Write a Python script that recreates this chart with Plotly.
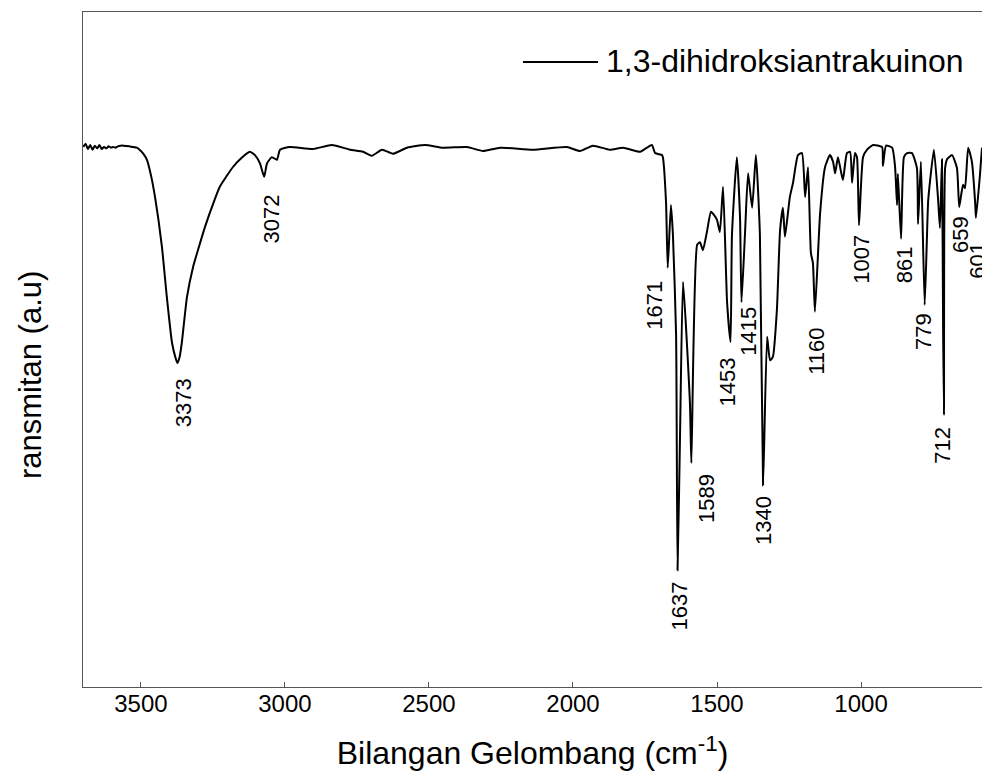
import plotly.graph_objects as go

# Wavenumber (cm-1) and transmittance (a.u.)
wavenumber = [3700, 3692, 3684, 3676, 3668, 3660, 3652, 3644, 3636, 3628, 3620, 3612, 3604, 3596,
              3588, 3580, 3570, 3560, 3540, 3514, 3500, 3490, 3479, 3465, 3451, 3427, 3410, 3392,
              3380, 3373, 3366, 3358, 3340, 3319, 3300, 3278, 3250, 3226, 3181, 3150, 3122, 3104,
              3087, 3072, 3062, 3045, 3028, 3017, 2983, 2903,
              2837, 2774, 2729, 2698, 2663, 2625, 2576, 2514, 2451, 2368, 2312, 2253, 2139, 2021,
              1976, 1931, 1872, 1826, 1767, 1726, 1715, 1691, 1688, 1677, 1671, 1660, 1653, 1642,
              1637, 1628, 1618, 1594, 1589, 1569, 1559, 1549, 1535, 1521, 1510, 1500, 1490, 1479,
              1465, 1453, 1448, 1431, 1420, 1415, 1403, 1392, 1378, 1365, 1351, 1340, 1326, 1316,
              1306, 1292, 1281, 1271, 1264, 1247, 1236, 1219, 1205, 1194, 1184, 1174, 1167, 1160,
              1142, 1125, 1108, 1097, 1090, 1080, 1063, 1049, 1038, 1031, 1021, 1014, 1007, 993,
              979, 958, 927, 924, 913, 892, 882, 875, 872, 861, 851, 840, 823, 806, 802, 792, 779,
              767, 760, 747, 733, 726, 719, 715, 712, 708, 701, 684, 667, 659, 646, 639, 628, 615,
              604, 601, 587, 580]
transmittance = [80.0, 80.5, 79.7, 80.3, 79.6, 80.2, 79.8, 80.3, 79.7, 80.0, 79.8, 80.1, 79.9, 80.0,
                 79.9, 80.1, 80.2, 80.2, 80.1, 79.9, 79.4, 78.9, 78.1, 75.8, 72.6, 65.2, 57.8, 51.0,
                 48.8, 48.0, 48.8, 51.0, 57.8, 62.2, 65.0, 68.1, 71.5, 74.1, 77.0, 78.4, 79.3, 78.8,
                 77.6, 75.6, 77.6, 78.5, 78.1, 79.6, 80.0, 79.7,
                 80.3, 79.6, 79.3, 78.7, 79.6, 79.0, 79.9, 80.3, 79.9, 80.0, 79.4, 79.9, 79.6, 80.0,
                 79.4, 80.2, 79.6, 79.9, 79.3, 80.3, 79.1, 78.8, 78.5, 71.9, 62.1, 71.4, 67.0, 52.1,
                 17.3, 38.1, 60.0, 42.1, 33.2, 65.5, 65.9, 64.7, 67.4, 70.4, 69.9, 69.2, 67.4, 74.1,
                 57.0, 51.1, 67.0, 78.5, 69.5, 57.0, 67.0, 76.1, 71.0, 78.8, 67.0, 29.9, 51.9, 48.4,
                 48.9, 55.9, 67.7, 71.0, 66.7, 72.6, 74.7, 78.8, 79.1, 72.6, 77.0, 64.3, 62.8, 55.6,
                 70.2, 77.0, 78.8, 77.8, 76.1, 78.5, 75.1, 79.1, 79.3, 74.7, 79.1, 78.5, 68.4, 78.5,
                 79.6, 80.3, 80.0, 77.2, 80.2, 79.9, 77.2, 71.4, 76.0, 66.4, 78.5, 79.1, 79.1, 76.9,
                 68.6, 77.8, 56.6, 71.9, 75.1, 79.6, 72.6, 68.0, 78.2, 52.9, 40.3, 76.9, 78.2, 78.8,
                 76.9, 71.1, 74.4, 73.9, 79.9, 77.8, 71.9, 69.5, 75.9, 79.9]

# Peak labels: wavenumber, label y (a.u.), horizontal offset of label (px)
peak_wn = [3373, 3072, 1671, 1637, 1589, 1453, 1415, 1340, 1160, 1007, 861, 779, 712, 659, 601]
peak_label_y = [42.1, 69.3, 56.6, 12.0, 27.9, 45.2, 52.7, 24.6, 49.8, 63.3, 62.5, 52.7, 35.9, 67.0, 63.3]
peak_label_dx = [6, 7, -13, 1, 15, -3, 7, 1, 2, 3, 3, -1, -1, 2, 2]

x_ticks = [3500, 3000, 2500, 2000, 1500, 1000]
series_name = "1,3-dihidroksiantrakuinon"

FONT = "Liberation Sans, Arial, sans-serif"

fig = go.Figure()
fig.add_trace(go.Scatter(x=wavenumber, y=transmittance, mode="lines",
                         line=dict(color="black", width=2, shape="spline", smoothing=0.5),
                         name=series_name, showlegend=False))

for wn, ly, dx in zip(peak_wn, peak_label_y, peak_label_dx):
    fig.add_annotation(x=wn, y=ly, text=str(wn), showarrow=False, textangle=-90,
                       xshift=dx, font=dict(family=FONT, size=22, color="black"))

# legend (line + label)
fig.add_shape(type="line", xref="paper", yref="paper", x0=0.4894, x1=0.5729, y0=0.926, y1=0.926,
              line=dict(color="black", width=2))
fig.add_annotation(xref="paper", yref="paper", x=0.5795, y=0.928, xanchor="left", yanchor="middle",
                   text=series_name, showarrow=False, font=dict(family=FONT, size=32, color="black"))

# y axis title (left part cut off in the original)
fig.add_annotation(xref="paper", yref="paper", x=-0.059, y=0.462, xanchor="center", yanchor="middle",
                   text="ransmitan (a.u)", showarrow=False, textangle=-90,
                   font=dict(family=FONT, size=31, color="black"))

fig.update_layout(
    width=982, height=771,
    margin=dict(l=83, r=0, t=12, b=84),
    paper_bgcolor="white", plot_bgcolor="white",
    font=dict(family=FONT, color="black"),
    showlegend=False,
    xaxis=dict(range=[3701, 580], tickvals=x_ticks, ticktext=[str(t) for t in x_ticks],
               ticks="inside", ticklen=5, tickcolor="#555", showgrid=False, zeroline=False,
               showline=True, linecolor="#555", linewidth=1, mirror=True,
               ticklabelstandoff=-5,
               tickfont=dict(family=FONT, size=24, color="black"),
               title=dict(text="Bilangan Gelombang (cm<sup>-1</sup>)", standoff=29,
                          font=dict(family=FONT, size=32, color="black"))),
    yaxis=dict(range=[0, 100], showticklabels=False, ticks="", showgrid=False, zeroline=False,
               showline=True, linecolor="#555", linewidth=1),
)

fig.write_html("out.html", config={"displayModeBar": False},
               post_script="document.body.style.margin='0px';document.body.style.overflow='hidden';")
